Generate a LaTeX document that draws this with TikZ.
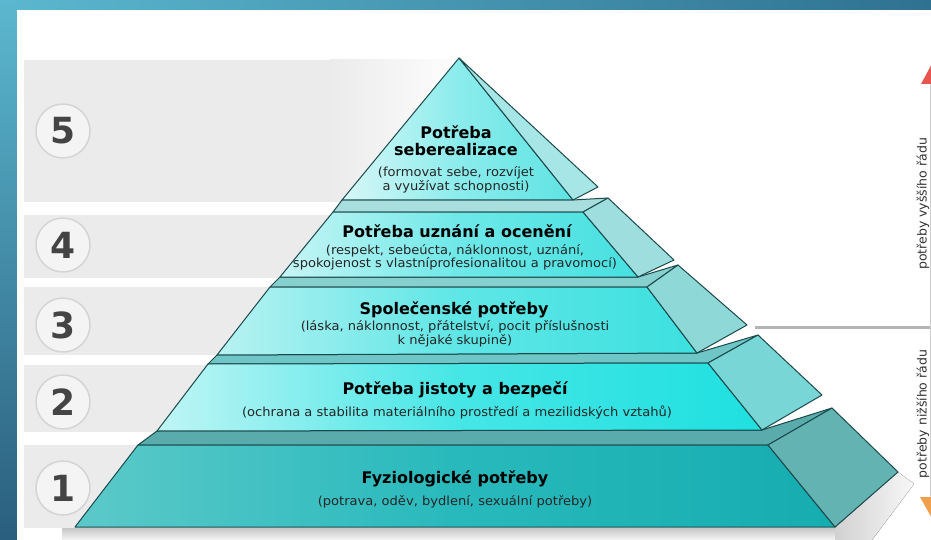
\documentclass[tikz,border=0pt]{standalone}
\usepackage{fontspec}
\setmainfont{DejaVu Sans}
\newfontfamily\widefont{DejaVu Sans}[FakeStretch=1.045]
\definecolor{bgA}{HTML}{5BB7CF}
\definecolor{bgB}{HTML}{2F7191}
\definecolor{bgC}{HTML}{2A5E7E}
\definecolor{bandgray}{HTML}{EBEBEB}
\definecolor{circfill}{HTML}{F4F4F4}
\definecolor{circdraw}{HTML}{D4D4D4}
\definecolor{numgray}{HTML}{444444}
\definecolor{edgecol}{HTML}{1C4A4C}
\definecolor{linegray}{HTML}{B4B4B4}
\definecolor{redtip}{HTML}{E8554E}
\definecolor{orangetip}{HTML}{F0A04A}
\begin{document}
\begin{tikzpicture}[x=1pt,y=-1pt,line join=round,
  face/.style={draw=edgecol,line width=1pt},
  ttl/.style={font=\fontsize{16}{17}\selectfont\bfseries,text=black,anchor=base,inner sep=0pt},
  subt/.style={font=\widefont\fontsize{12.5}{13}\selectfont,text=black!85,anchor=base,inner sep=0pt},
  numcirc/.style={circle,draw=circdraw,line width=1.5pt,fill=circfill,minimum size=54pt,inner sep=0pt,
    font=\fontsize{36}{36}\selectfont\bfseries,text=numgray},
  sidetext/.style={font=\fontsize{12.5}{13}\selectfont,text=black!80,rotate=90,inner sep=0pt}]
\useasboundingbox (0,0) rectangle (931,540);
% frame background
\fill[left color=bgA,right color=bgB] (0,0) rectangle (931,10);
\fill[top color=bgA,bottom color=bgC] (0,0) rectangle (17,540);
\fill[white] (17,10) rectangle (931,540);
% gray bands
\foreach \ya/\yb in {60/202,215/278,287/355,365/432,445/528}{
  \fill[bandgray] (24,\ya) rectangle (330,\yb);
  \fill[left color=bandgray,right color=white] (330,\ya) rectangle (470,\yb);
}
% numbered circles
\node[numcirc] (n5) at (63,131) {5};
\node[numcirc] (n4) at (63,245) {4};
\node[numcirc] (n3) at (63,325) {3};
\node[numcirc] (n2) at (63,402) {2};
\node[numcirc] (n1) at (63,488) {1};
% shadow of pyramid
\fill[top color=black!22,bottom color=black!4] (62,528) rectangle (850,540);
\fill[left color=black!18,right color=black!3] (835,528) -- (898,472) -- (914,484) -- (872,540) -- (835,540) -- cycle;
% level 1
\path[face,fill={rgb,255:red,90;green,171;blue,171}] (157,431) -- (762,430) -- (832,408) -- (768,445) -- (138,445) -- cycle;
\path[face,left color={rgb,255:red,92;green,201;blue,201},right color={rgb,255:red,22;green,173;blue,176},middle color={rgb,255:red,40;green,185;blue,188}] (138,445) -- (768,445) -- (835,527) -- (75,527) -- cycle;
\path[face,fill={rgb,255:red,99;green,179;blue,179}] (768,445) -- (832,408) -- (898,472) -- (835,527) -- cycle;
% level 2
\path[face,fill={rgb,255:red,110;green,198;blue,198}] (217,355) -- (697,353) -- (758,335) -- (708,363) -- (208,364) -- cycle;
\path[face,left color={rgb,255:red,192;green,245;blue,245},right color={rgb,255:red,31;green,224;blue,224},middle color={rgb,255:red,70;green,230;blue,230}] (208,364) -- (708,363) -- (762,430) -- (157,431) -- cycle;
\path[face,fill={rgb,255:red,120;green,214;blue,214}] (708,363) -- (758,335) -- (822,395) -- (762,430) -- cycle;
% level 3
\path[face,fill={rgb,255:red,134;green,208;blue,208}] (280,277) -- (638,277) -- (678,265) -- (647,287) -- (270,287) -- cycle;
\path[face,left color={rgb,255:red,184;green,242;blue,242},right color={rgb,255:red,61;green,224;blue,224},middle color={rgb,255:red,95;green,230;blue,230}] (270,287) -- (647,287) -- (697,353) -- (217,355) -- cycle;
\path[face,fill={rgb,255:red,142;green,216;blue,216}] (647,287) -- (678,265) -- (747,325) -- (697,353) -- cycle;
% level 4
\path[face,fill={rgb,255:red,168;green,222;blue,222}] (342,200) -- (573,200) -- (608,198) -- (583,212) -- (333,212) -- cycle;
\path[face,left color={rgb,255:red,200;green,245;blue,245},right color={rgb,255:red,70;green,224;blue,224},middle color={rgb,255:red,110;green,232;blue,232}] (333,212) -- (583,212) -- (638,277) -- (280,277) -- cycle;
\path[face,fill={rgb,255:red,158;green,222;blue,222}] (583,212) -- (608,198) -- (674,260) -- (638,277) -- cycle;
% level 5
\path[face,left color={rgb,255:red,216;green,247;blue,247},right color={rgb,255:red,95;green,227;blue,227},middle color={rgb,255:red,140;green,236;blue,236}] (459,58) -- (573,200) -- (342,200) -- cycle;
\path[face,fill={rgb,255:red,166;green,230;blue,230}] (459,58) -- (598,187) -- (573,200) -- cycle;
% texts (positions are baselines)
\node[ttl] (t5a) at (456,139) {Potřeba};
\node[ttl] (t5b) at (456,156) {seberealizace};
\node[subt] (s5a) at (456,177) {(formovat sebe, rozvíjet};
\node[subt] (s5b) at (456,190) {a využívat schopnosti)};
\node[ttl] (t4) at (457,237) {Potřeba uznání a ocenění};
\node[subt] (s4a) at (455,254) {(respekt, sebeúcta, náklonnost, uznání,};
\node[subt] (s4b) at (455,267.5) {spokojenost s vlastníprofesionalitou a pravomocí)};
\node[ttl] (t3) at (454,314) {Společenské potřeby};
\node[subt] (s3a) at (455,330) {(láska, náklonnost, přátelství, pocit příslušnosti};
\node[subt] (s3b) at (455,344) {k nějaké skupině)};
\node[ttl] (t2) at (455,394) {Potřeba jistoty a bezpečí};
\node[subt] (s2) at (457,416) {(ochrana a stabilita materiálního prostředí a mezilidských vztahů)};
\node[ttl] (t1) at (455,483) {Fyziologické potřeby};
\node[subt] (s1) at (455,505) {(potrava, oděv, bydlení, sexuální potřeby)};
% right-hand scale
\draw[linegray,line width=3pt] (755,327) -- (931,327);
\draw[black!20,line width=2pt] (931,84) -- (931,497);
\fill[redtip] (921,84) -- (934,60) -- (947,84) -- cycle;
\fill[orangetip] (920,497) -- (948,497) -- (934,522) -- cycle;
\node[sidetext] (hi) at (923,204) {potřeby vyššího řádu};
\node[sidetext] (lo) at (923,414) {potřeby nižšího řádu};
\end{tikzpicture}
\end{document}
